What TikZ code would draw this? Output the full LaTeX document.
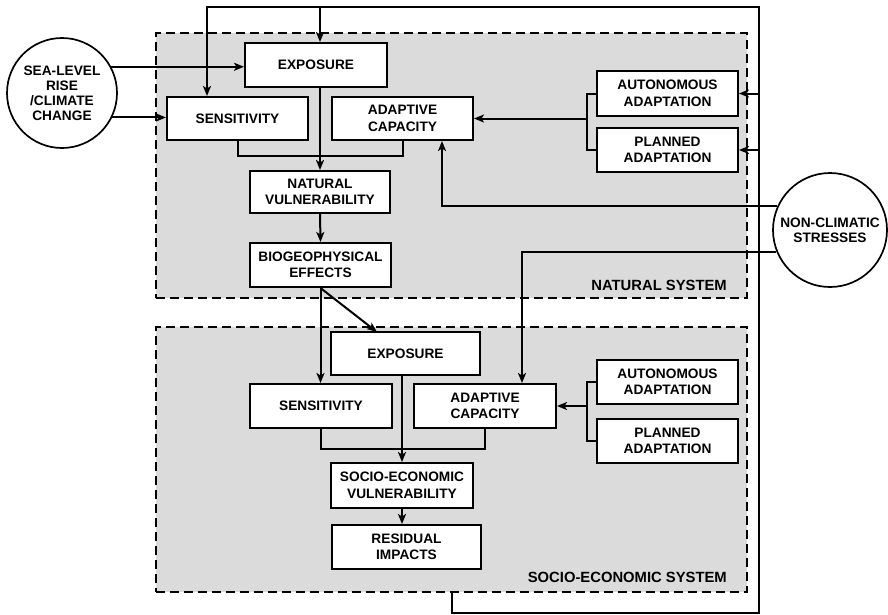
\documentclass[tikz,border=0pt]{standalone}
\usepackage{fontspec}
\setmainfont{Liberation Sans}
\usetikzlibrary{arrows.meta,calc}
\begin{document}
\begin{tikzpicture}[x=1pt,y=-1pt,
  txt/.style={font=\fontsize{13.7}{16.5}\selectfont\bfseries},
  box/.style={txt,draw,line width=2pt,fill=white,minimum width=#1,minimum height=44pt,inner sep=0pt,align=center},
  box/.default=141pt,
  circ/.style={draw,circle,line width=1.7pt,fill=white,inner sep=0pt,align=center,font=\fontsize{13.7}{15}\selectfont\bfseries},
  sysbox/.style={draw,line width=2pt,dash pattern=on 9pt off 5pt,fill=gray!28,inner sep=0pt},
  lab/.style={font=\fontsize{14.8}{17}\selectfont\bfseries,inner sep=0pt},
  line/.style={line width=2pt},
  arr/.style={line width=2pt,-{Stealth[length=10pt,width=8pt,inset=2.5pt]}}
]
\useasboundingbox (0,0) rectangle (888,614);

% systems
\node[sysbox,minimum width=591pt,minimum height=265pt] (natsys) at (451.5,165.5) {};
\node[sysbox,minimum width=591pt,minimum height=265pt] (socsys) at (451.5,459.5) {};
\node[lab,anchor=base east] (natlab) at (727,290) {NATURAL SYSTEM};
\node[lab,anchor=base east] (soclab) at (727,582) {SOCIO-ECONOMIC SYSTEM};

% natural system nodes
\node[box=142pt] (nexp) at (316,65) {EXPOSURE};
\node[box,minimum height=43pt] (nsen) at (237.5,118.5) {SENSITIVITY};
\node[box,minimum height=43pt] (nac) at (402.5,118.5) {ADAPTIVE\\CAPACITY};
\node[box=140pt,minimum height=42pt] (nvul) at (320,192) {NATURAL\\VULNERABILITY};
\node[box] (nbio) at (320.5,265) {BIOGEOPHYSICAL\\EFFECTS};
\node[box,minimum height=45pt] (naut) at (667.5,93.5) {AUTONOMOUS\\ADAPTATION};
\node[box] (npla) at (667.5,150) {PLANNED\\ADAPTATION};

% socio-economic nodes
\node[box=149pt,minimum height=43pt] (sexp) at (405.5,353.5) {EXPOSURE};
\node[box=142pt] (ssen) at (321,406) {SENSITIVITY};
\node[box=142pt] (sac) at (485,406) {ADAPTIVE\\CAPACITY};
\node[box=142pt,minimum height=45pt] (svul) at (402,485.5) {SOCIO-ECONOMIC\\VULNERABILITY};
\node[box=149pt] (sres) at (406.5,547) {RESIDUAL\\IMPACTS};
\node[box] (saut) at (667.5,382) {AUTONOMOUS\\ADAPTATION};
\node[box] (spla) at (667.5,441) {PLANNED\\ADAPTATION};

% external drivers
\node[circ,minimum size=110pt] (slr) at (62,93) {SEA-LEVEL\\RISE\\/CLIMATE\\CHANGE};
\node[circ,minimum size=114pt] (ncs) at (830,230) {NON-CLIMATIC\\STRESSES};

% helper coordinates
\coordinate (fb1) at (452,613);
\coordinate (fb2) at (759,613);
\coordinate (fb3) at (759,7);
\coordinate (fb4) at (207,7);
\coordinate (k1) at (442,0);
\coordinate (k2) at (522,0);
\coordinate (d1) at (377,332);

% feedback loop
\draw[arr] (fb1 |- socsys.south) -- (fb1) -- (fb2) -- (fb3) -- (fb4) -- (fb4 |- nsen.north);
\draw[arr] (fb4 -| nvul.north) -- (nexp.north -| nvul.north);
\draw[arr] (naut.east -| fb3) -- (naut.east);
\draw[arr] (npla.east -| fb3) -- (npla.east);

% sea-level rise
\draw[arr] (slr.28) -- (slr.28 -| nexp.west);
\draw[arr] (slr.-26) -- (slr.-26 -| nsen.west);

% natural system flow
\draw[line] (nsen.south) -- ++(0,15) -| (nac.south);
\draw[arr] (nexp.south -| nvul.north) -- (nvul.north);
\draw[arr] (nvul.south) -- (nbio.north);
\draw[line] (naut.west) -- ++(-9,0) |- (npla.west);
\draw[arr] ($(nac.east -| naut.west)+(-9,0)$) -- (nac.east);

% non-climatic stresses
\draw[arr] (ncs.156) -- (ncs.156 -| k1) -- (k1 |- nac.south);
\draw[arr] (ncs.202) -- (ncs.202 -| k2) -- (k2 |- sac.north);

% natural -> socio-economic
\draw[arr] (nbio.south) -- (nbio.south |- ssen.north);
\draw[arr] (nbio.south) -- (d1);

% socio-economic flow
\draw[line] (ssen.south) -- ++(0,20) -| (sac.south);
\draw[arr] (sexp.south -| svul.north) -- (svul.north);
\draw[arr] (svul.south) -- (svul.south |- sres.north);
\draw[line] (saut.west) -- ++(-9,0) |- (spla.west);
\draw[arr] ($(sac.east -| saut.west)+(-9,0)$) -- (sac.east);
\end{tikzpicture}
\end{document}
